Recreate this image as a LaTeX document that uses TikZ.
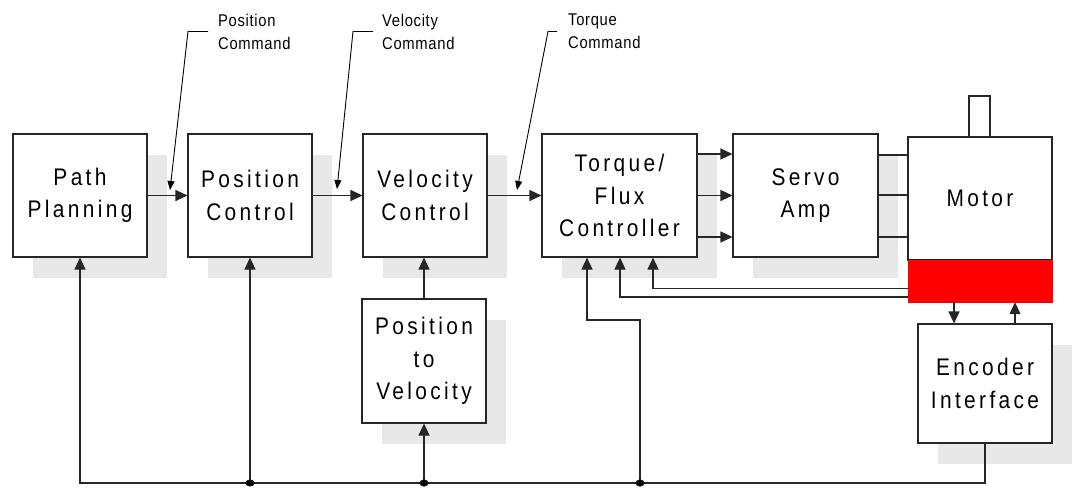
\documentclass[tikz,border=0pt]{standalone}
\usepackage{fontspec}
\setmainfont{Liberation Sans}
\newfontfamily\boxfont[FakeStretch=0.87,LetterSpace=14]{Liberation Sans}
\newfontfamily\lblfont[FakeStretch=0.87,LetterSpace=4]{Liberation Sans}
\usetikzlibrary{arrows.meta,shadows}
\tikzset{
  shad/.style={general shadow={fill=black!9, shadow xshift=20pt, shadow yshift=-21pt}},
  blk/.style={draw=black!85, line width=1.1pt, fill=white, inner sep=0pt, align=center,
              font=\boxfont\fontsize{24}{32.5}\selectfont},
  lbl/.style={inner sep=0pt, align=left, anchor=west, font=\lblfont\fontsize{17}{23}\selectfont},
  wire/.style={draw=black!85, line width=1.1pt},
  arr/.style={wire, -{Triangle[length=12pt,width=11pt]}},
  carr/.style={draw=black, line width=0.9pt, -{Triangle[length=9pt,width=7pt]}},
}
\begin{document}
\begin{tikzpicture}[x=1pt,y=-1pt]
\useasboundingbox (0,0) rectangle (1075,487);

% blocks
\node[blk,shad,minimum width=134pt,minimum height=123pt] (pp) at (80,195.5) {Path\\Planning};
\node[blk,shad,minimum width=124pt,minimum height=123pt] (pc) at (250,195.5) {Position\\Control};
\node[blk,shad,minimum width=124pt,minimum height=123pt] (vc) at (425,195.5) {Velocity\\Control};
\node[blk,shad,minimum width=155pt,minimum height=123pt] (tq) at (619.5,195.5) {Torque/\\Flux\\Controller};
\node[blk,shad,minimum width=145pt,minimum height=123pt] (sa) at (805.5,195.5) {Servo\\Amp};
\node[blk,shad,minimum width=124pt,minimum height=124pt] (ptv) at (424,361) {Position\\to\\Velocity};
\node[blk,shad,minimum width=134pt,minimum height=119pt] (enc) at (985,383.5) {Encoder\\Interface};
\node[blk,minimum width=21pt,minimum height=41pt] (shaft) at (979.5,116.5) {};
\node[blk,minimum width=144pt,minimum height=123pt] (mot) at (980,198.5) {Motor};
\node[draw=red,fill=red,inner sep=0pt,minimum width=144pt,minimum height=42pt] (fb) at (980,281) {};

% forward path
\draw[arr] (pp.east) -- (pc.west);
\draw[arr] (pc.east) -- (vc.west);
\draw[arr] (vc.east) -- (tq.west);
\draw[arr] ([yshift=41.5pt]tq.east) -- ([yshift=41.5pt]tq.east -| sa.west);
\draw[arr] (tq.east) -- (tq.east -| sa.west);
\draw[arr] ([yshift=-41.5pt]tq.east) -- ([yshift=-41.5pt]tq.east -| sa.west);
\draw[wire] ([yshift=40.5pt]sa.east) coordinate (s1) -- (s1 -| mot.west);
\draw[wire] ([yshift=0.5pt]sa.east) coordinate (s2) -- (s2 -| mot.west);
\draw[wire] ([yshift=-41.5pt]sa.east) coordinate (s3) -- (s3 -| mot.west);

% feedback from motor sensor
\draw[arr] ([yshift=-7.5pt]fb.west) -| ([xshift=33.5pt]tq.south);
\draw[arr] ([yshift=-16pt]fb.west) -| ([xshift=0.5pt]tq.south);
\draw[arr] ([xshift=-26pt]fb.south) -- ([xshift=-31pt]enc.north);
\draw[arr] ([xshift=30pt]enc.north) -- ([xshift=35pt]fb.south);
\draw[arr] (ptv.north) -- (ptv.north |- vc.south);

% bus
\coordinate (busR) at (985,483);
\coordinate (busL) at (80,483);
\coordinate (j1) at (250,483);
\coordinate (j2) at (424,483);
\coordinate (j3) at (640,483);
\draw[arr] (enc.south) -- (busR) -- (busL) -- (pp.south);
\draw[arr] (j1) -- (pc.south);
\draw[arr] (j2) -- (ptv.south);
\draw[arr] (j3) -- ++(0,-163) -| ([xshift=-32.5pt]tq.south);
\foreach \j in {j1,j2,j3} \fill[black] (\j) ellipse (4.5pt and 3.5pt);

% callouts
\node[lbl] (lpc) at (218,31.5) {Position\\Command};
\node[lbl] (lvc) at (382,31.5) {Velocity\\Command};
\node[lbl] (ltq) at (568,31.5) {Torque\\Command};
\coordinate (cpc) at (170,190);
\coordinate (cvc) at (337,189);
\coordinate (ctq) at (517,190);
\draw[carr] ([xshift=-10pt]lpc.west) -- ++(-20,0) -- (cpc);
\draw[carr] ([xshift=-9pt]lvc.west) -- ++(-20,0) -- (cvc);
\draw[carr] ([xshift=-11pt]ltq.west) -- ++(-9,0) -- (ctq);
\end{tikzpicture}
\end{document}
